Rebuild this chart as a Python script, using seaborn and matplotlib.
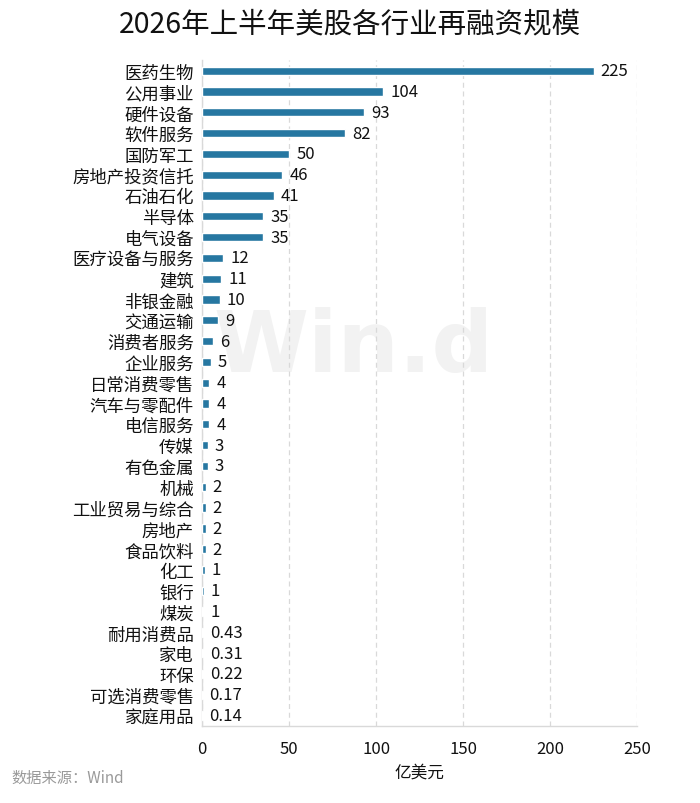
import matplotlib
matplotlib.use("Agg")
import matplotlib.pyplot as plt
import seaborn as sns
import pandas as pd

# 2026年上半年美股各行业再融资规模（亿美元）
industries = ["医药生物", "公用事业", "硬件设备", "软件服务", "国防军工", "房地产投资信托",
              "石油石化", "半导体", "电气设备", "医疗设备与服务", "建筑", "非银金融",
              "交通运输", "消费者服务", "企业服务", "日常消费零售", "汽车与零配件", "电信服务",
              "传媒", "有色金属", "机械", "工业贸易与综合", "房地产", "食品饮料",
              "化工", "银行", "煤炭", "耐用消费品", "家电", "环保", "可选消费零售", "家庭用品"]
amounts = [225, 104, 93, 82, 50, 46, 41, 35, 35, 12, 11, 10, 9, 6, 5, 4, 4, 4,
           3, 3, 2, 2, 2, 2, 1.3, 1.0, 0.6, 0.43, 0.31, 0.22, 0.17, 0.14]
value_labels = ["225", "104", "93", "82", "50", "46", "41", "35", "35", "12", "11", "10",
                "9", "6", "5", "4", "4", "4", "3", "3", "2", "2", "2", "2",
                "1", "1", "1", "0.43", "0.31", "0.22", "0.17", "0.14"]
x_ticks = [0, 50, 100, 150, 200, 250]

df = pd.DataFrame({"industry": industries, "amount": amounts})

sns.set_style("white")
plt.rcParams["font.family"] = ["Noto Sans CJK SC", "DejaVu Sans"]

fig = plt.figure(figsize=(7, 8.04), dpi=100)
ax = fig.add_axes([0.289, 0.0958, 0.621, 0.828])

sns.barplot(data=df, x="amount", y="industry", orient="h", color="#2677a1",
            width=0.4, saturation=1, ax=ax, zorder=3)

ax.bar_label(ax.containers[0], labels=value_labels, padding=5, fontsize=12,
             color="#111111", zorder=5)

ax.set_xlim(0, 250)
ax.set_ylim(31.5, -0.5)
ax.set_xticks(x_ticks)
ax.set_xticklabels([str(t) for t in x_ticks], fontsize=12, color="#111111")
ax.tick_params(axis="y", labelsize=12.5, labelcolor="#111111", length=0, pad=6)
ax.tick_params(axis="x", length=0, pad=10)
ax.set_ylabel("")
ax.set_xlabel("亿美元", fontsize=12, color="#111111", labelpad=5)

ax.grid(axis="x", linestyle=(0, (4, 3)), color="#d9d9d9", linewidth=0.9, zorder=0)
ax.grid(axis="y", visible=False)
for side in ["top", "right"]:
    ax.spines[side].set_visible(False)
for side in ["left", "bottom"]:
    ax.spines[side].set_color("#d9d9d9")
    ax.spines[side].set_linewidth(1)

# faint watermark behind everything in the plot area
ax.text(0.505, 0.566, "Win.d", fontsize=62, fontweight="bold", color="#f2f2f2",
        ha="center", va="center", family="DejaVu Sans", transform=fig.transFigure,
        zorder=-1)

fig.suptitle("2026年上半年美股各行业再融资规模", fontsize=20.5, color="#111111", y=0.988)
fig.text(0.017, 0.032, "数据来源：Wind", fontsize=11, color="#9a9a9a", ha="left", va="center")

fig.savefig("out.png", dpi=100)
